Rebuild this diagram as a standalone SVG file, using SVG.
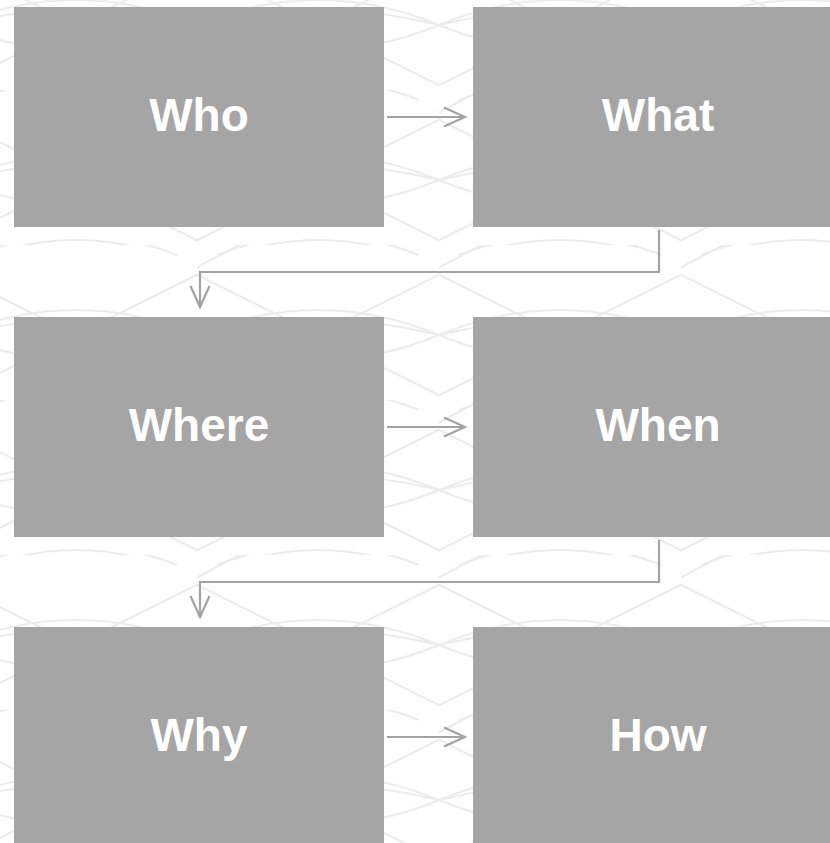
<svg xmlns="http://www.w3.org/2000/svg" width="830" height="843" viewBox="0 0 830 843">
<style>
.box{fill:#a5a5a5}
.lbl{font-family:"Liberation Sans",Arial,sans-serif;font-weight:bold;font-size:46px;fill:#ffffff;text-anchor:middle}
.con{fill:none;stroke:#a3a3a3;stroke-width:2.2}
.bg{fill:none;stroke:#ececec;stroke-width:2.2}
</style>
<defs>
<marker id="chev" viewBox="0 0 24 24" markerWidth="24" markerHeight="24" refX="22" refY="12" markerUnits="userSpaceOnUse" orient="auto">
<path d="M1,2.5 L22,12 L1,21.5" fill="none" stroke="#a3a3a3" stroke-width="2.2"/>
</marker>
<pattern id="lace" width="242" height="155" patternUnits="userSpaceOnUse" x="-45" y="-65">
<path class="bg" d="M0,90 Q121,40 242,90 M0,90 Q121,140 242,90 M0,90 Q121,60 242,90"/>
<path class="bg" d="M-60,0 Q60,60 121,90 Q182,120 302,180 M302,0 Q182,60 121,90 Q60,120 -60,180"/>
<path class="bg" d="M-121,90 Q0,20 121,-40 M121,220 Q242,160 363,90"/>
<path class="bg" d="M20,10 Q121,-30 222,10 M20,170 Q121,130 222,170"/>
</pattern>
</defs>
<rect width="830" height="843" fill="#ffffff"/>
<rect width="830" height="843" fill="url(#lace)"/>
<g id="connectors">
<line class="con" x1="387" y1="117" x2="465" y2="117" marker-end="url(#chev)"/>
<polyline class="con" points="659,230 659,272 200,272 200,307" marker-end="url(#chev)"/>
<line class="con" x1="387" y1="427" x2="465" y2="427" marker-end="url(#chev)"/>
<polyline class="con" points="659,540 659,582 200,582 200,617" marker-end="url(#chev)"/>
<line class="con" x1="387" y1="737" x2="465" y2="737" marker-end="url(#chev)"/>
</g>
<g id="node-who"><rect class="box" x="14" y="7" width="370" height="220"/><text class="lbl" x="199" y="131">Who</text></g>
<g id="node-what"><rect class="box" x="473" y="7" width="357" height="220"/><text class="lbl" x="658" y="131">What</text></g>
<g id="node-where"><rect class="box" x="14" y="317" width="370" height="220"/><text class="lbl" x="199" y="441">Where</text></g>
<g id="node-when"><rect class="box" x="473" y="317" width="357" height="220"/><text class="lbl" x="658" y="441">When</text></g>
<g id="node-why"><rect class="box" x="14" y="627" width="370" height="220"/><text class="lbl" x="199" y="751">Why</text></g>
<g id="node-how"><rect class="box" x="473" y="627" width="357" height="220"/><text class="lbl" x="658" y="751">How</text></g>
</svg>
